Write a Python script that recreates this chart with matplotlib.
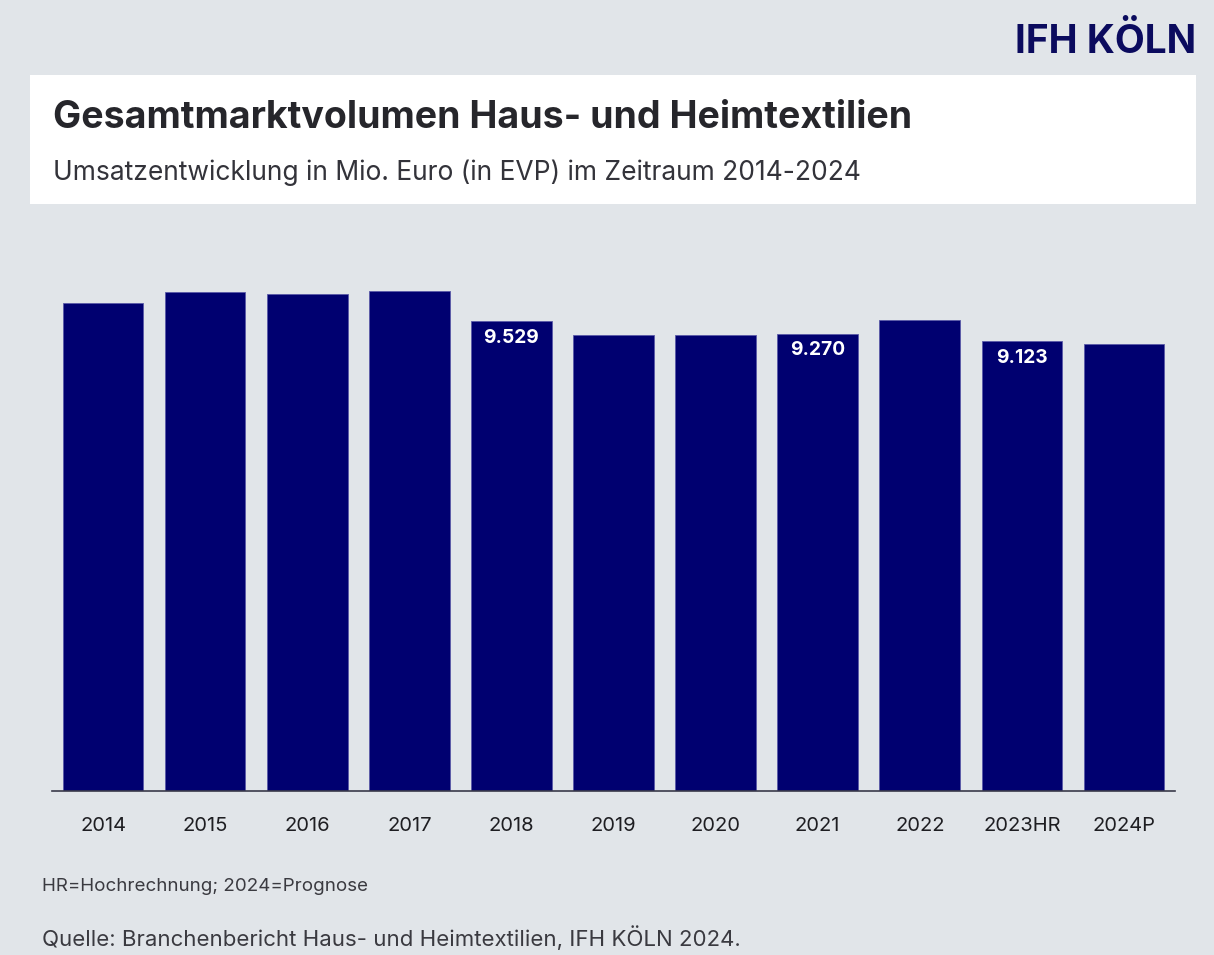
import numpy as np
import matplotlib.pyplot as plt
from matplotlib.patches import Rectangle

# data (Mio. Euro)
years = ['2014', '2015', '2016', '2017', '2018', '2019', '2020', '2021', '2022', '2023HR', '2024P']
umsatz = [9890, 10110, 10075, 10135, 9529, 9245, 9240, 9270, 9555, 9123, 9060]
# only these bars carry a value label
labelled = {'2018': '9.529', '2021': '9.270', '2023HR': '9.123'}

W, H = 1214, 955
bg = '#e1e5e9'
navy = '#000070'

plt.rcParams['font.family'] = ['Inter', 'DejaVu Sans']

fig = plt.figure(figsize=(W / 100, H / 100), dpi=100)
fig.patch.set_facecolor(bg)

def fx(px):
    return px / W

def fy(py):
    return 1 - py / H

# white title box
fig.patches.append(Rectangle((fx(30), fy(204)), fx(1196) - fx(30), fy(75) - fy(204),
                             transform=fig.transFigure, facecolor='white', edgecolor='none', zorder=0))
fig.text(fx(53), fy(118), 'Gesamtmarktvolumen Haus- und Heimtextilien', fontsize=27,
         fontweight='bold', color='#26262b', va='center', ha='left')
fig.text(fx(53), fy(173), 'Umsatzentwicklung in Mio. Euro (in EVP) im Zeitraum 2014-2024',
         fontsize=19, color='#33333a', va='center', ha='left')

# logo
fig.text(fx(1196), fy(42), 'IFH KÖLN', fontsize=28, fontweight='bold', color='#0b0b5e',
         va='center', ha='right')

# chart area
ax = fig.add_axes([fx(52), fy(791), fx(1175) - fx(52), fy(230) - fy(791)])
ax.set_facecolor(bg)
x = np.arange(len(years))
bars = ax.bar(x, umsatz, width=0.79, color=navy, edgecolor='#5a5aa8', linewidth=0.6)
for i, yr in enumerate(years):
    if yr in labelled:
        ax.text(x[i], umsatz[i] - 340, labelled[yr], ha='center', va='center',
                color='white', fontsize=13.8, fontweight='bold')

ax.set_xlim(-0.5, 10.5)
ax.set_ylim(0, (791 - 230) / 0.04933)
ax.set_xticks(x)
ax.set_xticklabels(years, fontsize=14.5, color='#1e1e22')
ax.tick_params(axis='x', length=0, pad=19)
ax.set_yticks([])
for s in ['top', 'right', 'left']:
    ax.spines[s].set_visible(False)
ax.spines['bottom'].set_color('#3a3a4a')
ax.spines['bottom'].set_linewidth(1.2)

# footnotes
fig.text(fx(42), fy(886), 'HR=Hochrechnung; 2024=Prognose', fontsize=13.5, color='#3a3a40',
         va='center', ha='left')
fig.text(fx(42), fy(938), 'Quelle: Branchenbericht Haus- und Heimtextilien, IFH KÖLN 2024.',
         fontsize=16, color='#3a3a40', va='center', ha='left')

fig.savefig('out.png', dpi=100, facecolor=fig.get_facecolor())
